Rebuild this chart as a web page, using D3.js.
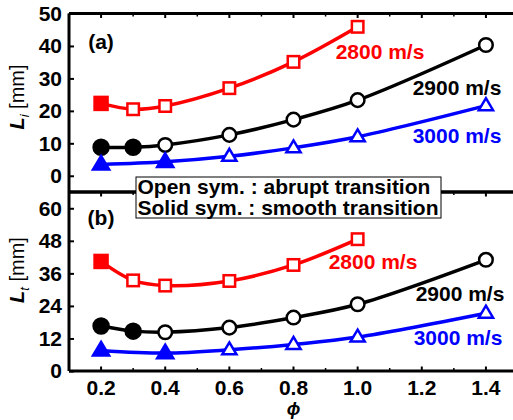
<!DOCTYPE html>
<html>
<head>
<meta charset="utf-8">
<script src="https://cdn.jsdelivr.net/npm/d3@7"></script>
<style>
  html, body { margin: 0; padding: 0; background: #fff; }
  svg { display: block; font-family: "Liberation Sans", Arial, sans-serif; font-weight: bold; }
</style>
</head>
<body>
<svg id="chart" width="513" height="420"></svg>
<script>
// ---- data ----
const xTicks = [0.2, 0.4, 0.6, 0.8, 1.0, 1.2, 1.4];
const xMinor = [0.1, 0.3, 0.5, 0.7, 0.9, 1.1, 1.3, 1.5];
const yTicksA = [0, 10, 20, 30, 40, 50];
const yTicksB = [0, 12, 24, 36, 48, 60];

const seriesNames = ["2800 m/s", "2900 m/s", "3000 m/s"];
const seriesColors = ["#ff0000", "#000000", "#0000ff"];
const seriesShapes = ["square", "circle", "triangle"];

const phi2800 = [0.2, 0.3, 0.4, 0.6, 0.8, 1.0];
const phi2900 = [0.2, 0.3, 0.4, 0.6, 0.8, 1.0, 1.4];
const phi3000 = [0.2, 0.4, 0.6, 0.8, 1.0, 1.4];

const solid2800 = [true, false, false, false, false, false];
const solid2900 = [true, true, false, false, false, false, false];
const solid3000 = [true, true, false, false, false, false];

// panel (a): L_i [mm]
const Li2800 = [22.3, 20.5, 21.5, 27.0, 35.1, 45.9];
const Li2900 = [8.8, 8.8, 9.5, 12.6, 17.3, 23.3, 40.3];
const Li3000 = [3.5, 4.3, 6.0, 8.6, 12.0, 21.6];

// panel (b): L_t [mm]
const Lt2800 = [40.4, 33.4, 31.5, 33.2, 39.1, 48.6];
const Lt2900 = [16.6, 14.7, 14.3, 16.0, 19.7, 24.6, 41.0];
const Lt3000 = [7.6, 6.6, 7.8, 9.8, 12.5, 21.3];
</script>
<script>
const svg = d3.select("#chart");
const X0 = 69, X1 = 518;
const x = d3.scaleLinear().domain([0.1, 1.5]).range([X0, X1]);
const yA = d3.scaleLinear().domain([-5, 50]).range([192, 13.5]);
const yB = d3.scaleLinear().domain([0, 66]).range([371, 192]);

const phis = [phi2800, phi2900, phi3000];
const solids = [solid2800, solid2900, solid3000];
const panels = [
  { y: yA, vals: [Li2800, Li2900, Li3000], ticks: yTicksA, top: 13.5, bottom: 192,
    label: "(a)", labelPos: [101, 49], sub: "i", ylabelY: 97,
    names: [[380, 59], [457, 95], [457, 143]] },
  { y: yB, vals: [Lt2800, Lt2900, Lt3000], ticks: yTicksB, top: 192, bottom: 371,
    label: "(b)", labelPos: [101, 225], sub: "t", ylabelY: 270,
    names: [[373, 269], [460, 301], [458, 345]] }
];

const FS = 21;
const FONT = "Liberation Sans, Arial, sans-serif";

panels.forEach((p, pi) => {
  // frame lines
  svg.append("line").attr("x1", X0).attr("x2", X1).attr("y1", p.top).attr("y2", p.top)
    .attr("stroke", "#000").attr("stroke-width", 3);
  svg.append("line").attr("x1", X0).attr("x2", X1).attr("y1", p.bottom).attr("y2", p.bottom)
    .attr("stroke", "#000").attr("stroke-width", 3);

  // top x ticks (pointing down, inside)
  const gTop = svg.append("g").attr("transform", `translate(0,${p.top})`);
  gTop.selectAll("line.maj").data(xTicks).join("line")
    .attr("x1", d => x(d)).attr("x2", d => x(d)).attr("y1", 0).attr("y2", 4.5)
    .attr("stroke", "#000").attr("stroke-width", 2);
  gTop.selectAll("line.min").data(xMinor).join("line")
    .attr("x1", d => x(d)).attr("x2", d => x(d)).attr("y1", 0).attr("y2", 3)
    .attr("stroke", "#000").attr("stroke-width", 1.5);

  // y axis
  const ax = d3.axisLeft(p.y).tickValues(p.ticks).tickSize(-5).tickPadding(7);
  const gy = svg.append("g").attr("transform", `translate(${X0},0)`).call(ax);
  gy.select(".domain").attr("d", `M0,${p.top}V${p.bottom}`).attr("stroke-width", 3);
  gy.selectAll(".tick line").attr("stroke-width", 2);
  gy.selectAll(".tick text").attr("font-size", FS).attr("font-weight", "bold")
    .attr("font-family", FONT).attr("fill", "#000");

  // y label
  const yl = svg.append("text")
    .attr("transform", `translate(24,${p.ylabelY}) rotate(-90)`)
    .attr("text-anchor", "middle").attr("font-size", 20).attr("font-weight", "normal");
  yl.append("tspan").attr("font-style", "italic").attr("font-weight", "bold").text("L");
  yl.append("tspan").attr("font-style", "italic").attr("font-size", 13).attr("dy", 5).text(p.sub);
  yl.append("tspan").attr("dy", -5).text(" [mm]");

  // panel label
  svg.append("text").attr("x", p.labelPos[0]).attr("y", p.labelPos[1])
    .attr("text-anchor", "middle").attr("font-size", FS).text(p.label);

  // series
  const line = d3.line().x(d => x(d[0])).y(d => p.y(d[1])).curve(d3.curveCatmullRom.alpha(0.5));
  p.vals.forEach((vals, si) => {
    const pts = phis[si].map((ph, i) => [ph, vals[i], solids[si][i]]);
    const col = seriesColors[si];
    svg.append("path").attr("d", line(pts)).attr("fill", "none")
      .attr("stroke", col).attr("stroke-width", 3.5);
    const g = svg.append("g");
    pts.forEach(d => {
      const cx = x(d[0]), cy = p.y(d[1]);
      const fill = d[2] ? col : "#fff";
      const sw = 2.5;
      if (seriesShapes[si] === "square") {
        const s = d[2] ? 13 : 11.5;
        g.append("rect").attr("x", cx - s / 2).attr("y", cy - s / 2).attr("width", s).attr("height", s)
          .attr("fill", fill).attr("stroke", col).attr("stroke-width", sw);
      } else if (seriesShapes[si] === "circle") {
        g.append("circle").attr("cx", cx).attr("cy", cy).attr("r", d[2] ? 7.5 : 6.8)
          .attr("fill", fill).attr("stroke", col).attr("stroke-width", sw);
      } else {
        const r = d[2] ? 8.5 : 7.5;
        const pth = `M${cx},${cy - r}L${cx + r * 0.95},${cy + r * 0.6}L${cx - r * 0.95},${cy + r * 0.6}Z`;
        g.append("path").attr("d", pth)
          .attr("fill", fill).attr("stroke", col).attr("stroke-width", sw).attr("stroke-linejoin", "miter");
      }
    });
    svg.append("text").attr("x", p.names[si][0]).attr("y", p.names[si][1])
      .attr("text-anchor", "middle").attr("font-size", FS).attr("fill", col).text(seriesNames[si]);
  });
});

// bottom x tick labels
svg.append("g").selectAll("text").data(xTicks).join("text")
  .attr("x", d => x(d)).attr("y", 395).attr("text-anchor", "middle").attr("font-size", FS)
  .text(d => d.toFixed(1));
// bottom ticks pointing up
svg.append("g").selectAll("line").data(xTicks).join("line")
  .attr("x1", d => x(d)).attr("x2", d => x(d)).attr("y1", 371).attr("y2", 366.5)
  .attr("stroke", "#000").attr("stroke-width", 2);
svg.append("g").selectAll("line").data(xMinor).join("line")
  .attr("x1", d => x(d)).attr("x2", d => x(d)).attr("y1", 371).attr("y2", 368)
  .attr("stroke", "#000").attr("stroke-width", 1.5);

// x label
svg.append("text").attr("x", x(0.8)).attr("y", 415).attr("text-anchor", "middle")
  .attr("font-size", 18).attr("font-style", "italic").text("\u03D5");

// legend box
const lg = svg.append("g");
lg.append("rect").attr("x", 136).attr("y", 177).attr("width", 305).attr("height", 41)
  .attr("fill", "#fff").attr("stroke", "#000").attr("stroke-width", 1);
lg.append("text").attr("x", 137.5).attr("y", 193.5).attr("font-size", FS).text("Open sym. : abrupt transition");
lg.append("text").attr("x", 137.5).attr("y", 214.5).attr("font-size", FS).text("Solid sym. : smooth transition");
</script>
</body>
</html>
